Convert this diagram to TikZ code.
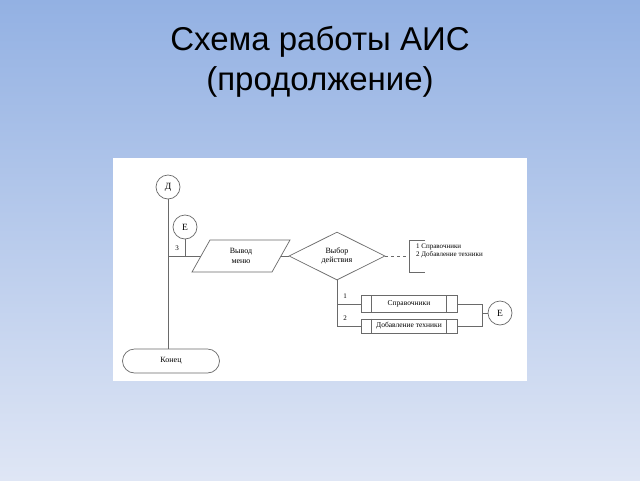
\documentclass[tikz,border=0pt]{standalone}
\usepackage{fontspec}
\setmainfont{Liberation Serif}
\newfontfamily\titlefont{Liberation Sans}
\usetikzlibrary{shapes.geometric,shapes.misc}
\definecolor{bgtop}{HTML}{93B1E3}
\definecolor{bgbot}{HTML}{DFE6F5}
\definecolor{linec}{HTML}{6A6A6A}
\begin{document}
\begin{tikzpicture}[x=1pt,y=-1pt,
  ln/.style={draw=linec,line width=0.7pt},
  circ/.style={circle,ln,fill=white,minimum size=24pt,inner sep=0pt,font=\fontsize{9.5}{10}\selectfont},
  lbl/.style={inner sep=0pt,font=\fontsize{7}{8}\selectfont},
  numlbl/.style={inner sep=0pt,font=\fontsize{7}{8}\selectfont},
  procbox/.style={rectangle,ln,fill=white,minimum width=96pt,inner sep=0pt,font=\fontsize{7.5}{8.5}\selectfont},
  term/.style={rounded rectangle,ln,fill=white,minimum width=97pt,minimum height=24pt,inner sep=0pt,font=\fontsize{8}{9}\selectfont},
  decision/.style={diamond,ln,fill=white,aspect=2,minimum width=96pt,minimum height=48pt,inner sep=0pt,align=center,font=\fontsize{8}{9.5}\selectfont},
  ttl/.style={inner sep=0pt,anchor=base,font=\titlefont\fontsize{33}{38}\selectfont}
]
\useasboundingbox (0,0) rectangle (640,480);
\shade[top color=bgtop,bottom color=bgbot] (0,0) rectangle (640,480);
\fill[white] (113,158) rectangle (527,381);

\node[ttl] (t1) at (320,50) {Схема работы АИС};
\node[ttl] (t2) at (320,90) {(продолжение)};

% nodes
\node[circ] (D) at (168,187) {Д};
\node[circ] (E1) at (185,227) {Е};
\node[term] (end) at (171,361) {Конец};

\draw[ln,fill=white] (210,240) -- (290,240) -- (272,272) -- (192,272) -- cycle;
\node[lbl,align=center,font=\fontsize{8}{9.5}\selectfont] (out) at (241,256) {Вывод\\меню};
\coordinate (outL) at (201,256);
\coordinate (outR) at (281,256);

\node[decision] (dec) at (337,256) {Выбор\\действия};

\coordinate (brk) at (409,256);
\draw[ln] (425,240) -- (409,240) -- (409,272) -- (425,272);
\node[lbl,anchor=west] (m1) at (416,247) {1 Справочники};
\node[lbl,anchor=west] (m2) at (416,255) {2 Добавление техники};

\node[procbox,minimum height=17pt] (b1) at (409,304) {Справочники};
\node[procbox,minimum height=14pt] (b2) at (409,326) {Добавление техники};
\foreach \b in {b1,b2}{
  \draw[ln] ([xshift=11pt]\b.north west) -- ([xshift=11pt]\b.south west);
  \draw[ln] ([xshift=-11pt]\b.north east) -- ([xshift=-11pt]\b.south east);
}
\node[circ] (E2) at (500,313) {Е};
\coordinate (jr) at (482,313);

% connectors
\coordinate (j3) at (D.south |- out);
\draw[ln] (D.south) -- (D.south |- end.north);
\draw[ln] (E1.south) -- (E1.south |- j3);
\draw[ln] (j3) -- (outL);
\node[numlbl] (n3) at (177,248) {3};
\draw[ln] (outR) -- (dec.west);
\draw[ln,dashed] (dec.east) -- (brk);

\draw[ln] (dec.south) -- (dec.south |- b2) -- (b2.west);
\draw[ln] (dec.south |- b1) -- (b1.west);
\node[numlbl] (n1) at (345,296) {1};
\node[numlbl] (n2) at (345,318) {2};

\draw[ln] (b1.east) -- (b1.east -| jr) -- (b2.east -| jr) -- (b2.east);
\draw[ln] (jr) -- (E2);
\end{tikzpicture}
\end{document}
